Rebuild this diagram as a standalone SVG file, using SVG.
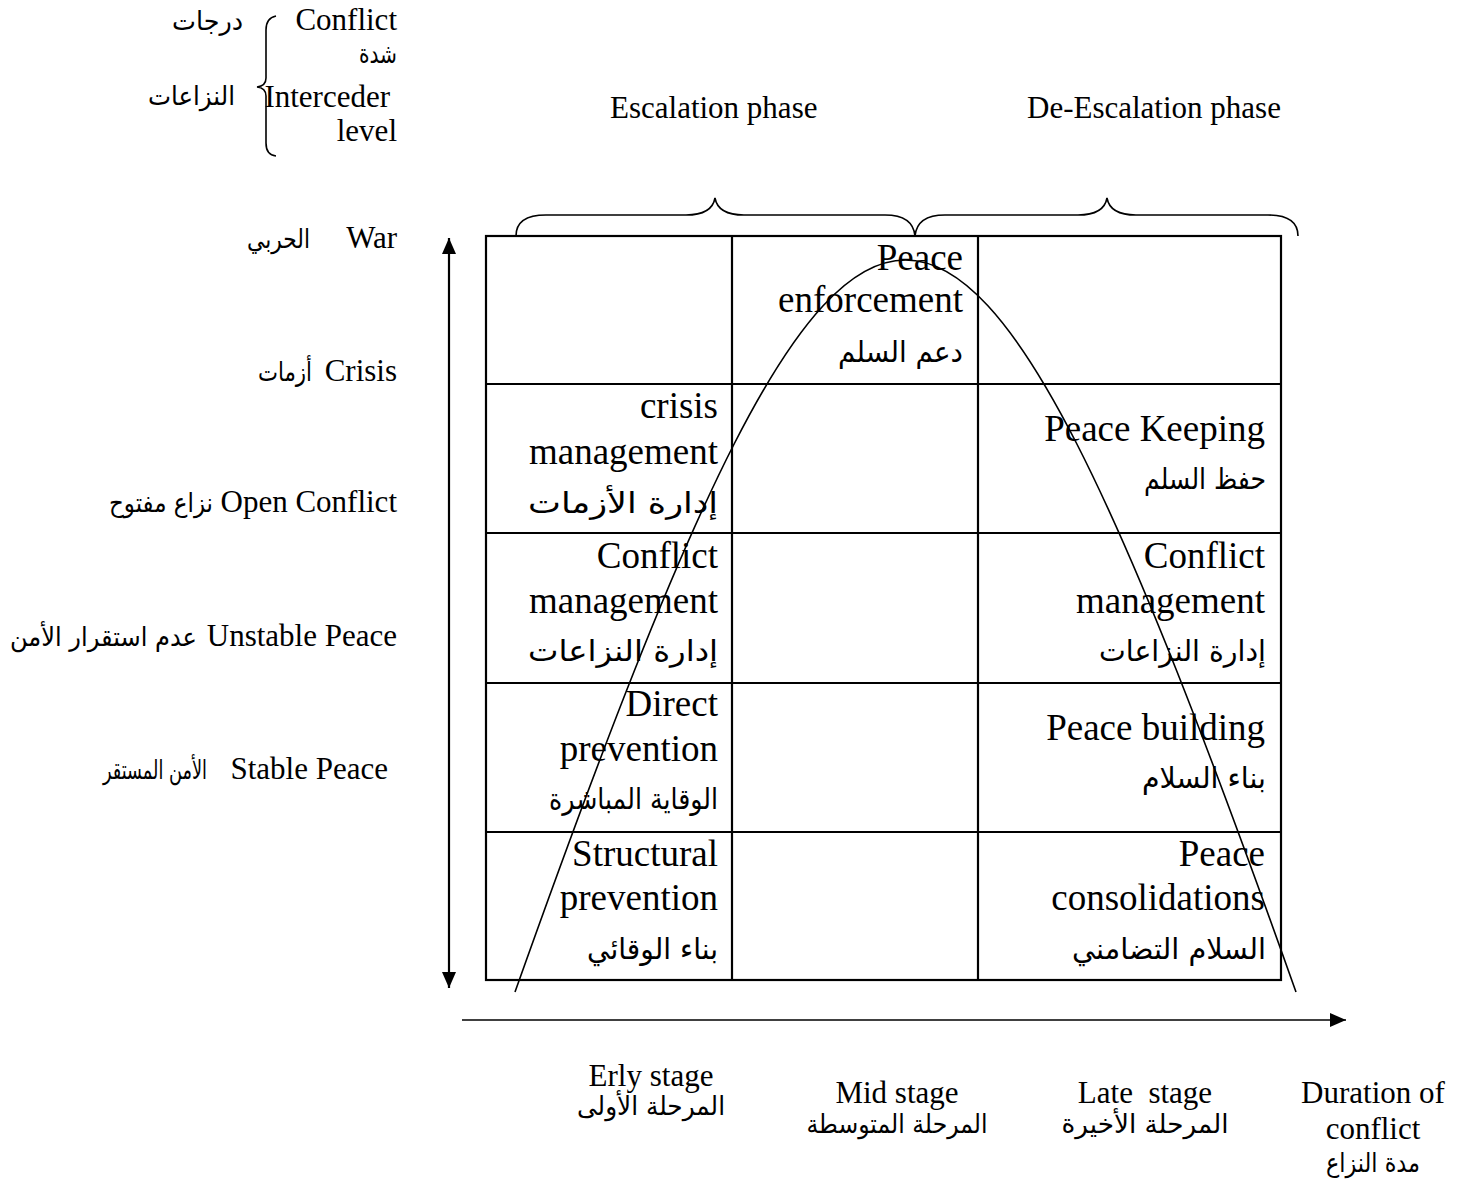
<svg xmlns="http://www.w3.org/2000/svg" width="1467" height="1186" viewBox="0 0 1467 1186">
  <style>
    .lbl { font-family: "Liberation Serif", "DejaVu Sans", serif; font-size: 31px; fill: #000; }
    .cell { font-family: "Liberation Serif", "DejaVu Sans", serif; font-size: 37px; fill: #000; }
    .ar { font-family: "DejaVu Sans", "Noto Sans", sans-serif; font-size: 26px; fill: #000; }
    .arc { font-family: "DejaVu Sans", "Noto Sans", sans-serif; font-size: 29px; fill: #000; }
    .grid { fill: none; stroke: #000; stroke-width: 2.2; }
    .thin { fill: none; stroke: #000; stroke-width: 1.6; }
    .end { text-anchor: end; }
    .mid { text-anchor: middle; }
  </style>
  <defs>
    <marker id="head" viewBox="0 0 16 14" refX="16" refY="7" markerWidth="16" markerHeight="14" markerUnits="userSpaceOnUse" orient="auto-start-reverse">
      <path d="M0,0 L16,7 L0,14 Z" fill="#000"/>
    </marker>
  </defs>
  <rect width="1467" height="1186" fill="#fff"/>

  <!-- legend: intensity of conflict -->
  <g id="legend">
    <path class="thin" d="M276,16 Q266,18 266,30 L266,78 Q266,86 257,87 Q266,88 266,96 L266,143 Q266,155 276,156"/>
    <text class="lbl end" x="397" y="30">Conflict</text>
    <text class="ar end" x="397" y="63" textLength="38" lengthAdjust="spacingAndGlyphs">شدة</text>
    <text class="lbl end" x="390" y="107">Interceder</text>
    <text class="lbl end" x="397" y="141">level</text>
    <text class="ar end" x="243" y="30" textLength="71" lengthAdjust="spacingAndGlyphs">درجات</text>
    <text class="ar end" x="235" y="105" textLength="87" lengthAdjust="spacingAndGlyphs">النزاعات</text>
  </g>

  <!-- phase headings -->
  <g id="phases">
    <text class="lbl" x="610" y="118">Escalation phase</text>
    <text class="lbl" x="1027" y="118">De-Escalation phase</text>
  </g>

  <!-- vertical scale labels -->
  <g id="levels">
    <text class="lbl end" x="397" y="248">War</text>
    <text class="ar end" x="310" y="248" textLength="63" lengthAdjust="spacingAndGlyphs">الحربي</text>
    <text class="lbl end" x="397" y="381">Crisis</text>
    <text class="ar end" x="312" y="381" textLength="54" lengthAdjust="spacingAndGlyphs">أزمات</text>
    <text class="lbl end" x="397" y="512">Open Conflict</text>
    <text class="ar end" x="213" y="512" textLength="104" lengthAdjust="spacingAndGlyphs">نزاع مفتوح</text>
    <text class="lbl end" x="397" y="646">Unstable Peace</text>
    <text class="ar end" x="197" y="646" textLength="187" lengthAdjust="spacingAndGlyphs">عدم استقرار الأمن</text>
    <text class="lbl end" x="388" y="779">Stable Peace</text>
    <text class="ar end" x="207" y="779" font-size="23" textLength="104" lengthAdjust="spacingAndGlyphs">الأمن المستقر</text>
  </g>

  <!-- connectors: axes, braces, curve -->
  <g id="connectors">
    <line class="grid" x1="449" y1="238" x2="449" y2="988" marker-start="url(#head)" marker-end="url(#head)"/>
    <line class="thin" x1="462" y1="1020" x2="1346" y2="1020" marker-end="url(#head)"/>
    <path class="thin" d="M516,236 Q516,215 546,215 L686,215 Q712,215 715,198 Q718,215 744,215 L885,215 Q913,215 915,236"/>
    <path class="thin" d="M915,236 Q917,215 945,215 L1078,215 Q1104,215 1107,198 Q1110,215 1136,215 L1268,215 Q1298,215 1298,236"/>
    <path class="thin" d="M515,992 C862,16 949,16 1296,992"/>
  </g>

  <!-- matrix -->
  <g id="grid">
    <rect class="grid" x="486" y="236" width="795" height="744"/>
    <line class="grid" x1="732" y1="236" x2="732" y2="980"/>
    <line class="grid" x1="978" y1="236" x2="978" y2="980"/>
    <line class="grid" x1="486" y1="384" x2="1281" y2="384"/>
    <line class="grid" x1="486" y1="533" x2="1281" y2="533"/>
    <line class="grid" x1="486" y1="683" x2="1281" y2="683"/>
    <line class="grid" x1="486" y1="832" x2="1281" y2="832"/>
  </g>

  <g id="peace-enforcement">
    <text class="cell end" x="963" y="270">Peace</text>
    <text class="cell end" x="963" y="312">enforcement</text>
    <text class="arc end" x="963" y="362" textLength="125" lengthAdjust="spacingAndGlyphs">دعم السلم</text>
  </g>
  <g id="crisis-management">
    <text class="cell end" x="718" y="418">crisis</text>
    <text class="cell end" x="718" y="464">management</text>
    <text class="arc end" x="718" y="513" textLength="190" lengthAdjust="spacingAndGlyphs">إدارة الأزمات</text>
  </g>
  <g id="peace-keeping">
    <text class="cell end" x="1265" y="441">Peace Keeping</text>
    <text class="arc end" x="1266" y="489" textLength="122" lengthAdjust="spacingAndGlyphs">حفظ السلم</text>
  </g>
  <g id="conflict-management-early">
    <text class="cell end" x="718" y="568">Conflict</text>
    <text class="cell end" x="718" y="613">management</text>
    <text class="arc end" x="718" y="661" textLength="190" lengthAdjust="spacingAndGlyphs">إدارة النزاعات</text>
  </g>
  <g id="conflict-management-late">
    <text class="cell end" x="1265" y="568">Conflict</text>
    <text class="cell end" x="1265" y="613">management</text>
    <text class="arc end" x="1266" y="661" textLength="167" lengthAdjust="spacingAndGlyphs">إدارة  النزاعات</text>
  </g>
  <g id="direct-prevention">
    <text class="cell end" x="718" y="716">Direct</text>
    <text class="cell end" x="718" y="761">prevention</text>
    <text class="arc end" x="718" y="809" textLength="169" lengthAdjust="spacingAndGlyphs">الوقاية المباشرة</text>
  </g>
  <g id="peace-building">
    <text class="cell end" x="1265" y="740">Peace building</text>
    <text class="arc end" x="1266" y="788" textLength="124" lengthAdjust="spacingAndGlyphs">بناء السلام</text>
  </g>
  <g id="structural-prevention">
    <text class="cell end" x="718" y="866">Structural</text>
    <text class="cell end" x="718" y="910">prevention</text>
    <text class="arc end" x="718" y="959" textLength="131" lengthAdjust="spacingAndGlyphs">بناء الوقائي</text>
  </g>
  <g id="peace-consolidations">
    <text class="cell end" x="1265" y="866">Peace</text>
    <text class="cell end" x="1265" y="910">consolidations</text>
    <text class="arc end" x="1266" y="959" textLength="194" lengthAdjust="spacingAndGlyphs">السلام التضامني</text>
  </g>

  <!-- time axis labels -->
  <g id="stages">
    <text class="lbl mid" x="651" y="1086">Erly stage</text>
    <text class="ar mid" x="651" y="1115" textLength="148" lengthAdjust="spacingAndGlyphs">المرحلة الأولى</text>
    <text class="lbl mid" x="897" y="1103">Mid stage</text>
    <text class="ar mid" x="897" y="1133" textLength="181" lengthAdjust="spacingAndGlyphs">المرحلة المتوسطة</text>
    <text class="lbl mid" x="1145" y="1103" xml:space="preserve">Late  stage</text>
    <text class="ar mid" x="1145" y="1133" textLength="167" lengthAdjust="spacingAndGlyphs">المرحلة الأخيرة</text>
    <text class="lbl mid" x="1373" y="1103">Duration of</text>
    <text class="lbl mid" x="1373" y="1139">conflict</text>
    <text class="ar mid" x="1373" y="1172" textLength="94" lengthAdjust="spacingAndGlyphs">مدة النزاع</text>
  </g>
</svg>
